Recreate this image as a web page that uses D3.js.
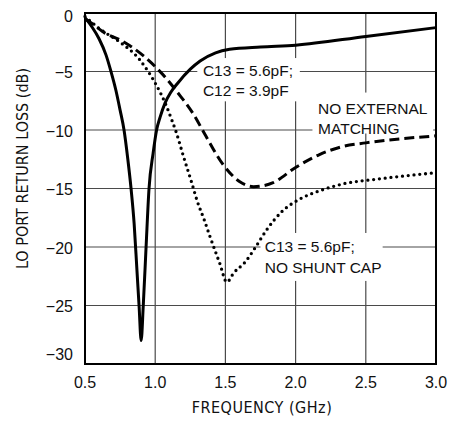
<!DOCTYPE html>
<html lang="en">
<head>
  <meta charset="utf-8">
  <title>LO Port Return Loss</title>
  <script src="https://d3js.org/d3.v7.min.js"></script>
  <style>
    body {
      margin: 0;
      background-color: #ffffff;
    }

    .grid line {
      stroke: #4a4a4a;
      stroke-width: 1.2px;
    }

    .tick-label {
      font-family: "Liberation Sans", Arial, sans-serif;
      font-size: 16px;
      fill: #111;
    }

    .axis-title {
      font-family: "Liberation Sans Narrow", "DejaVu Sans Condensed", sans-serif;
      font-size: 16px;
      fill: #111;
    }

    .note {
      font-family: "Liberation Sans", Arial, sans-serif;
      font-size: 15.5px;
      fill: #111;
    }

    path.curve {
      fill: none;
      stroke: #000;
      stroke-width: 3px;
    }
  </style>
</head>
<body>

<script>
// values
var xTicks = [0.5, 1.0, 1.5, 2.0, 2.5, 3.0];
var xTickLabels = ["0.5", "1.0", "1.5", "2.0", "2.5", "3.0"];
var yTicks = [0, -5, -10, -15, -20, -25, -30];
var yTickLabels = ["0", "\u22125", "\u221210", "\u221215", "\u221220", "\u221225", "\u221230"];

// C13 = 5.6pF; C12 = 3.9pF (solid)
var matchedFreq = [0.5, 0.55, 0.6, 0.65, 0.685, 0.72, 0.75, 0.778, 0.805, 0.828, 0.85, 0.87, 0.885, 0.9, 0.915, 0.935, 0.956, 0.985, 1.01, 1.035, 1.07, 1.11, 1.16, 1.25, 1.32, 1.43, 1.53, 1.75, 2.0, 2.5, 3.0];
var matchedLoss = [-0.4, -1.2, -2.2, -3.6, -5.0, -6.6, -8.3, -10.0, -12.5, -15.0, -18.0, -22.0, -25.0, -28.0, -25.0, -20.0, -15.0, -12.0, -10.0, -8.9, -7.7, -6.8, -6.0, -4.8, -4.1, -3.4, -3.1, -2.9, -2.75, -2.0, -1.25];

// no external matching (dashed)
var noMatchFreq = [0.5, 0.55, 0.64, 0.75, 0.82, 0.92, 1.01, 1.08, 1.16, 1.27, 1.36, 1.48, 1.6, 1.7, 1.84, 2.0, 2.17, 2.34, 2.5, 3.0];
var noMatchLoss = [-0.5, -0.9, -1.7, -2.3, -2.8, -3.7, -4.7, -5.6, -6.8, -8.6, -10.5, -12.9, -14.4, -14.85, -14.5, -13.2, -12.1, -11.4, -11.1, -10.5];

// C13 = 5.6pF; no shunt cap (dotted)
var noShuntFreq = [0.5, 0.61, 0.75, 0.89, 0.95, 1.01, 1.08, 1.12, 1.15, 1.2, 1.26, 1.3, 1.35, 1.39, 1.46, 1.51, 1.56, 1.64, 1.71, 1.79, 1.9, 2.03, 2.17, 2.34, 2.58, 3.0];
var noShuntLoss = [-0.3, -1.4, -2.5, -4.0, -5.0, -6.2, -7.95, -9.2, -10.2, -12.2, -14.5, -16.1, -17.7, -19.1, -21.4, -23.0, -22.2, -21.3, -20.1, -18.6, -17.0, -15.9, -15.2, -14.6, -14.2, -13.65];

var width = 451, height = 422;
var plotLeft = 85, plotRight = 436, plotTop = 13, plotBottom = 364;

var x = d3.scaleLinear().domain([0.5, 3.0]).range([plotLeft, plotRight]);
var y = d3.scaleLinear().domain([-30, 0]).range([plotBottom, plotTop]);

var svg = d3.select("body").append("svg")
    .attr("width", width)
    .attr("height", height);

// grid
var grid = svg.append("g").attr("class", "grid");

grid.selectAll("line.v")
    .data(xTicks.slice(1, -1))
    .enter().append("line")
    .attr("class", "v")
    .attr("x1", d => x(d)).attr("x2", d => x(d))
    .attr("y1", plotTop).attr("y2", plotBottom);

grid.selectAll("line.h")
    .data(yTicks.slice(1, -1))
    .enter().append("line")
    .attr("class", "h")
    .attr("x1", plotLeft).attr("x2", plotRight)
    .attr("y1", d => y(d)).attr("y2", d => y(d));

// white boxes that cut the grid behind the notes
var noteBoxes = [
  { x0: 1.3, x1: 2.03, y0: -3.85, y1: -7.55 },
  { x0: 2.12, x1: 2.98, y0: -6.8, y1: -10.3 },
  { x0: 1.75, x1: 2.62, y0: -18.8, y1: -22.9 }
];

svg.append("g").selectAll("rect")
    .data(noteBoxes)
    .enter().append("rect")
    .attr("x", d => x(d.x0))
    .attr("y", d => y(d.y0))
    .attr("width", d => x(d.x1) - x(d.x0))
    .attr("height", d => y(d.y1) - y(d.y0))
    .style("fill", "#fff");

// frame
svg.append("rect")
    .attr("x", plotLeft).attr("y", plotTop)
    .attr("width", plotRight - plotLeft).attr("height", plotBottom - plotTop)
    .style("fill", "none")
    .style("stroke", "#000")
    .style("stroke-width", 2);

// curves
var line = d3.line()
    .x(d => x(d[0]))
    .y(d => y(d[1]))
    .curve(d3.curveMonotoneX);

var series = [
  { f: matchedFreq, v: matchedLoss, dash: null, cap: "butt" },
  { f: noMatchFreq, v: noMatchLoss, dash: "10,5", cap: "butt" },
  { f: noShuntFreq, v: noShuntLoss, dash: "0,5.8", cap: "round" }
];

svg.append("g").selectAll("path")
    .data(series)
    .enter().append("path")
    .attr("class", "curve")
    .attr("d", d => line(d3.zip(d.f, d.v)))
    .style("stroke-dasharray", d => d.dash)
    .style("stroke-linecap", d => d.cap)
    .style("stroke-width", d => d.cap === "round" ? 3.3 : 3);

// tick labels
svg.append("g").selectAll("text")
    .data(xTicks)
    .enter().append("text")
    .attr("class", "tick-label")
    .attr("x", d => x(d))
    .attr("y", 388)
    .attr("text-anchor", "middle")
    .text((d, i) => xTickLabels[i]);

svg.append("g").selectAll("text")
    .data(yTicks)
    .enter().append("text")
    .attr("class", "tick-label")
    .attr("x", 73)
    .attr("y", (d, i) => y(d) + (i === 0 ? 8.5 : i === yTicks.length - 1 ? -4 : 6.5))
    .attr("text-anchor", "end")
    .text((d, i) => yTickLabels[i]);

// axis titles
svg.append("text")
    .attr("class", "axis-title")
    .attr("x", 262)
    .attr("y", 413)
    .attr("text-anchor", "middle")
    .style("letter-spacing", "0.5px")
    .text("FREQUENCY (GHz)");

svg.append("text")
    .attr("class", "axis-title")
    .attr("transform", "translate(28,168.5) rotate(-90)")
    .attr("text-anchor", "middle")
    .text("LO PORT RETURN LOSS (dB)");

// notes
var notes = [
  { f: 1.34, v: -5.35, lines: ["C13 = 5.6pF;", "C12 = 3.9pF"] },
  { f: 2.16, v: -8.6, lines: ["NO EXTERNAL", "MATCHING"] },
  { f: 1.78, v: -20.45, lines: ["C13 = 5.6pF;", "NO SHUNT CAP"] }
];

notes.forEach(function(n) {
  var t = svg.append("text")
      .attr("class", "note")
      .attr("x", x(n.f))
      .attr("y", y(n.v));
  n.lines.forEach(function(s, i) {
    t.append("tspan")
        .attr("x", x(n.f))
        .attr("dy", i === 0 ? 0 : 20.5)
        .text(s);
  });
});
</script>

</body>
</html>
